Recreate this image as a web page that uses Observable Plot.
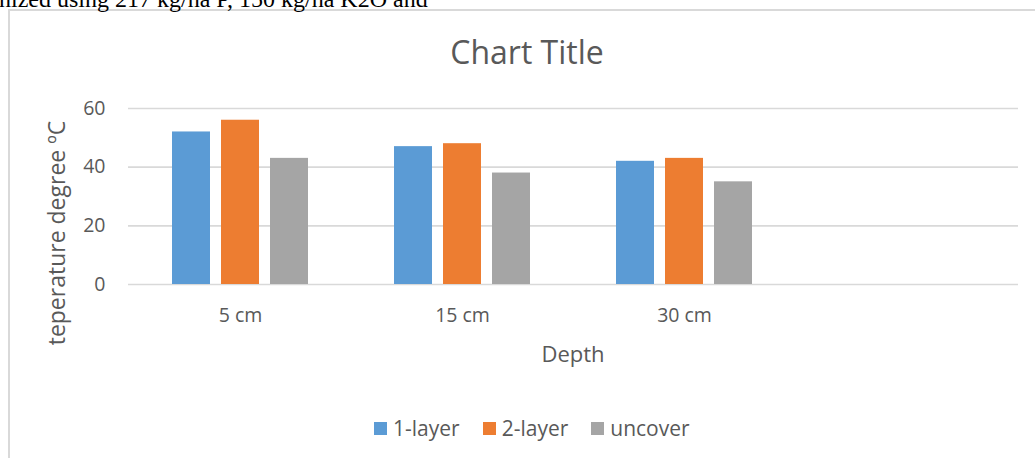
<!DOCTYPE html>
<html>
<head>
<meta charset="utf-8">
<script src="https://cdn.jsdelivr.net/npm/d3@7"></script>
<script src="https://cdn.jsdelivr.net/npm/@observablehq/plot@0.6"></script>
<style>
  html, body { margin: 0; padding: 0; background: #fff; }
  body { width: 1035px; height: 458px; overflow: hidden; position: relative; font-family: "Open Sans", sans-serif; color: #595959; }
  .abs { position: absolute; white-space: nowrap; }
  #toptext { left: -1px; top: -13px; font-family: "Liberation Serif", "Times New Roman", serif; font-size: 24px; line-height: 24px; color: #000; }
  #frame { left: 8px; top: 9px; width: 1100px; height: 1000px; border-left: 2px solid #d9d9d9; border-top: 2px solid #d9d9d9; box-sizing: border-box; }
  #chart { left: 0; top: 0; }
  #title { left: 527px; top: 36px; font-size: 32px; line-height: 32px; transform: translateX(-50%); }
  #xtitle { left: 573px; top: 342px; font-size: 22px; line-height: 22px; transform: translateX(-50%); }
  #ytitle { left: 56px; top: 233px; font-size: 23px; line-height: 23px; transform: translate(-50%, -50%) rotate(-90deg); }
  #legend { left: 374px; top: 418px; display: flex; align-items: center; }
  .item { display: flex; align-items: center; margin-right: 23px; font-size: 21px; line-height: 21px; }
  .sw { width: 13px; height: 13px; margin-right: 6px; }
</style>
</head>
<body>
<div id="frame" class="abs"></div>
<div id="toptext" class="abs">nized using 217 kg/ha P, 150 kg/ha K2O and</div>
<div id="chart" class="abs"></div>
<div id="title" class="abs">Chart Title</div>
<div id="xtitle" class="abs">Depth</div>
<div id="ytitle" class="abs">teperature degree ºC</div>
<div id="legend" class="abs"></div>
<script>
// ---- data ----
const depths = ["5 cm", "15 cm", "30 cm"];
const series = ["1-layer", "2-layer", "uncover"];
const oneLayer = [52, 47, 42];
const twoLayer = [56, 48, 43];
const uncover = [43, 38, 35];
const colors = ["#5B9BD5", "#ED7D31", "#A5A5A5"];
const yTicks = [0, 20, 40, 60];

const valuesBySeries = [oneLayer, twoLayer, uncover];
const rows = series.flatMap((s, si) =>
  depths.map((d, di) => ({depth: d, series: s, value: valuesBySeries[si][di]}))
);

const offsets = [-49, 0, 49];

const chart = Plot.plot({
  width: 1035,
  height: 458,
  marginTop: 108,
  marginBottom: 174,
  marginLeft: 128,
  marginRight: 17,
  style: {fontFamily: "Open Sans, sans-serif", color: "#595959", background: "transparent", overflow: "visible"},
  x: {type: "band", domain: [...depths, ""], paddingInner: 0.827, paddingOuter: 0.4135, axis: null},
  y: {domain: [0, 60], axis: null},
  color: {domain: series, range: colors},
  marks: [
    Plot.ruleY(yTicks, {stroke: "#d9d9d9", strokeWidth: 1.6}),
    ...series.map((s, i) =>
      Plot.barY(rows.filter(r => r.series === s), {x: "depth", y: "value", fill: "series", dx: offsets[i]})
    ),
    Plot.axisY(yTicks, {tickSize: 0, tickPadding: 23, fontSize: 19.5, label: null}),
    Plot.axisX({tickSize: 0, tickPadding: 24, fontSize: 19.5, label: null})
  ]
});
document.getElementById("chart").appendChild(chart);

const legend = document.getElementById("legend");
series.forEach((s, i) => {
  const item = document.createElement("div");
  item.className = "item";
  const sw = document.createElement("span");
  sw.className = "sw";
  sw.style.background = colors[i];
  const t = document.createElement("span");
  t.textContent = s;
  item.appendChild(sw);
  item.appendChild(t);
  legend.appendChild(item);
});
</script>
</body>
</html>
